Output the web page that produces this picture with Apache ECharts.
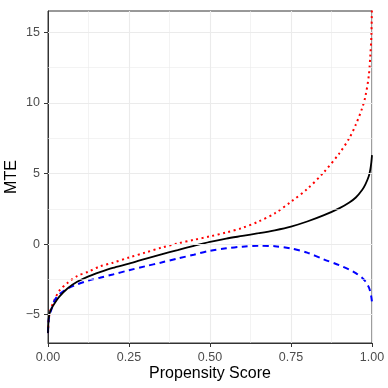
<!DOCTYPE html>
<html>
<head>
<meta charset="utf-8">
<script src="https://cdn.jsdelivr.net/npm/echarts@6/dist/echarts.min.js"></script>
<style>
  html, body { margin: 0; padding: 0; background: #fff; }
  #chart { width: 388px; height: 388px; }
</style>
</head>
<body>
<div id="chart"></div>
<script>
// propensity score grid
const scores = [0, 0.002, 0.005, 0.01, 0.02, 0.035, 0.06, 0.09, 0.125, 0.16, 0.2, 0.25,
  0.3, 0.35, 0.4, 0.45, 0.5, 0.55, 0.6, 0.65, 0.7, 0.75, 0.8, 0.85, 0.9, 0.93, 0.95,
  0.97, 0.98, 0.99, 0.995, 0.998, 1.0]

const mteSolid = [-6.3, -5.3, -4.9, -4.6, -4.2, -3.72, -3.14, -2.67, -2.28, -1.98, -1.68, -1.38,
  -1.04, -0.72, -0.42, -0.12, 0.16, 0.39, 0.58, 0.77, 0.98, 1.24, 1.6, 2.03, 2.55, 2.95, 3.3,
  3.85, 4.25, 4.8, 5.3, 5.8, 6.3]

const mteDotted = [-6.3, -5.4, -4.9, -4.5, -3.95, -3.3, -2.75, -2.26, -1.95, -1.58, -1.32, -0.95,
  -0.6, -0.25, 0.05, 0.3, 0.55, 0.82, 1.15, 1.6, 2.18, 3.0, 3.9, 5.05, 6.45, 7.5, 8.45,
  9.65, 10.5, 11.9, 13.4, 14.7, 17.0]

const mteDashed = [-6.3, -5.4, -5.0, -4.65, -4.0, -3.55, -3.15, -2.85, -2.58, -2.38, -2.15, -1.85,
  -1.57, -1.3, -1.02, -0.75, -0.47, -0.3, -0.18, -0.12, -0.15, -0.31, -0.6, -1.07, -1.5, -1.8, -2.05,
  -2.4, -2.65, -3.05, -3.4, -3.75, -4.1]

const yTicks = [-5, 0, 5, 10, 15]
const yMinorTicks = [-2.5, 2.5, 7.5, 12.5]

const pair = (ys) => scores.map((x, i) => [x, ys[i]])

const chart = echarts.init(document.getElementById('chart'))

const gridLine = (v, w) => ({ yAxis: v, lineStyle: { color: '#EBEBEB', width: w, type: 'solid' } })

const option = {
  animation: false,
  backgroundColor: '#fff',
  textStyle: { fontFamily: 'Liberation Sans' },
  grid: {
    left: 48, right: 16, top: 11, bottom: 45,
    outerBoundsMode: 'none',
    containLabel: false,
    show: true, borderColor: '#333333', borderWidth: 1, backgroundColor: 'transparent'
  },
  xAxis: {
    type: 'value',
    min: 0, max: 1, interval: 0.25,
    name: 'Propensity Score',
    nameLocation: 'middle',
    nameGap: 23,
    nameMoveOverlap: false,
    nameTextStyle: { fontSize: 16, color: '#000' },
    axisLine: { show: true, onZero: false, lineStyle: { color: '#333333' } },
    axisTick: { show: true, length: 4, lineStyle: { color: '#333333' } },
    axisLabel: { fontSize: 12.5, color: '#4D4D4D', margin: 8, formatter: v => v.toFixed(2) },
    splitLine: { show: true, lineStyle: { color: '#EBEBEB', width: 1.1 } },
    minorTick: { show: false, splitNumber: 2 },
    minorSplitLine: { show: true, lineStyle: { color: '#EBEBEB', width: 0.6 } }
  },
  yAxis: {
    type: 'value',
    min: -7, max: 16.5,
    name: 'MTE',
    nameLocation: 'middle',
    nameGap: 28,
    nameMoveOverlap: false,
    nameTextStyle: { fontSize: 16, color: '#000' },
    axisLine: { show: true, onZero: false, lineStyle: { color: '#333333' } },
    axisTick: { show: true, length: 4, customValues: yTicks, lineStyle: { color: '#333333' } },
    axisLabel: { fontSize: 12.5, color: '#4D4D4D', margin: 8, customValues: yTicks,
      formatter: v => (v < 0 ? '\u2212' + Math.abs(v) : String(v)) },
    splitLine: { show: false }
  },
  series: [
    {
      name: 'grid',
      type: 'line',
      data: [],
      silent: true,
      z: 1,
      markLine: {
        silent: true,
        symbol: 'none',
        label: { show: false },
        animation: false,
        data: yTicks.map(v => gridLine(v, 1.1)).concat(yMinorTicks.map(v => gridLine(v, 0.6)))
      }
    },
    {
      name: 'dotted',
      type: 'line',
      data: pair(mteDotted),
      showSymbol: false,
      smooth: 0.3,
      z: 3,
      lineStyle: { color: '#FF0000', width: 2, type: [2, 3.5] }
    },
    {
      name: 'dashed',
      type: 'line',
      data: pair(mteDashed),
      showSymbol: false,
      smooth: 0.3,
      z: 3,
      lineStyle: { color: '#0000FF', width: 2, type: [6, 4.5] }
    },
    {
      name: 'solid',
      type: 'line',
      data: pair(mteSolid),
      showSymbol: false,
      smooth: 0.3,
      z: 4,
      lineStyle: { color: '#000000', width: 1.8 }
    }
  ]
}

chart.setOption(option)
</script>
</body>
</html>
